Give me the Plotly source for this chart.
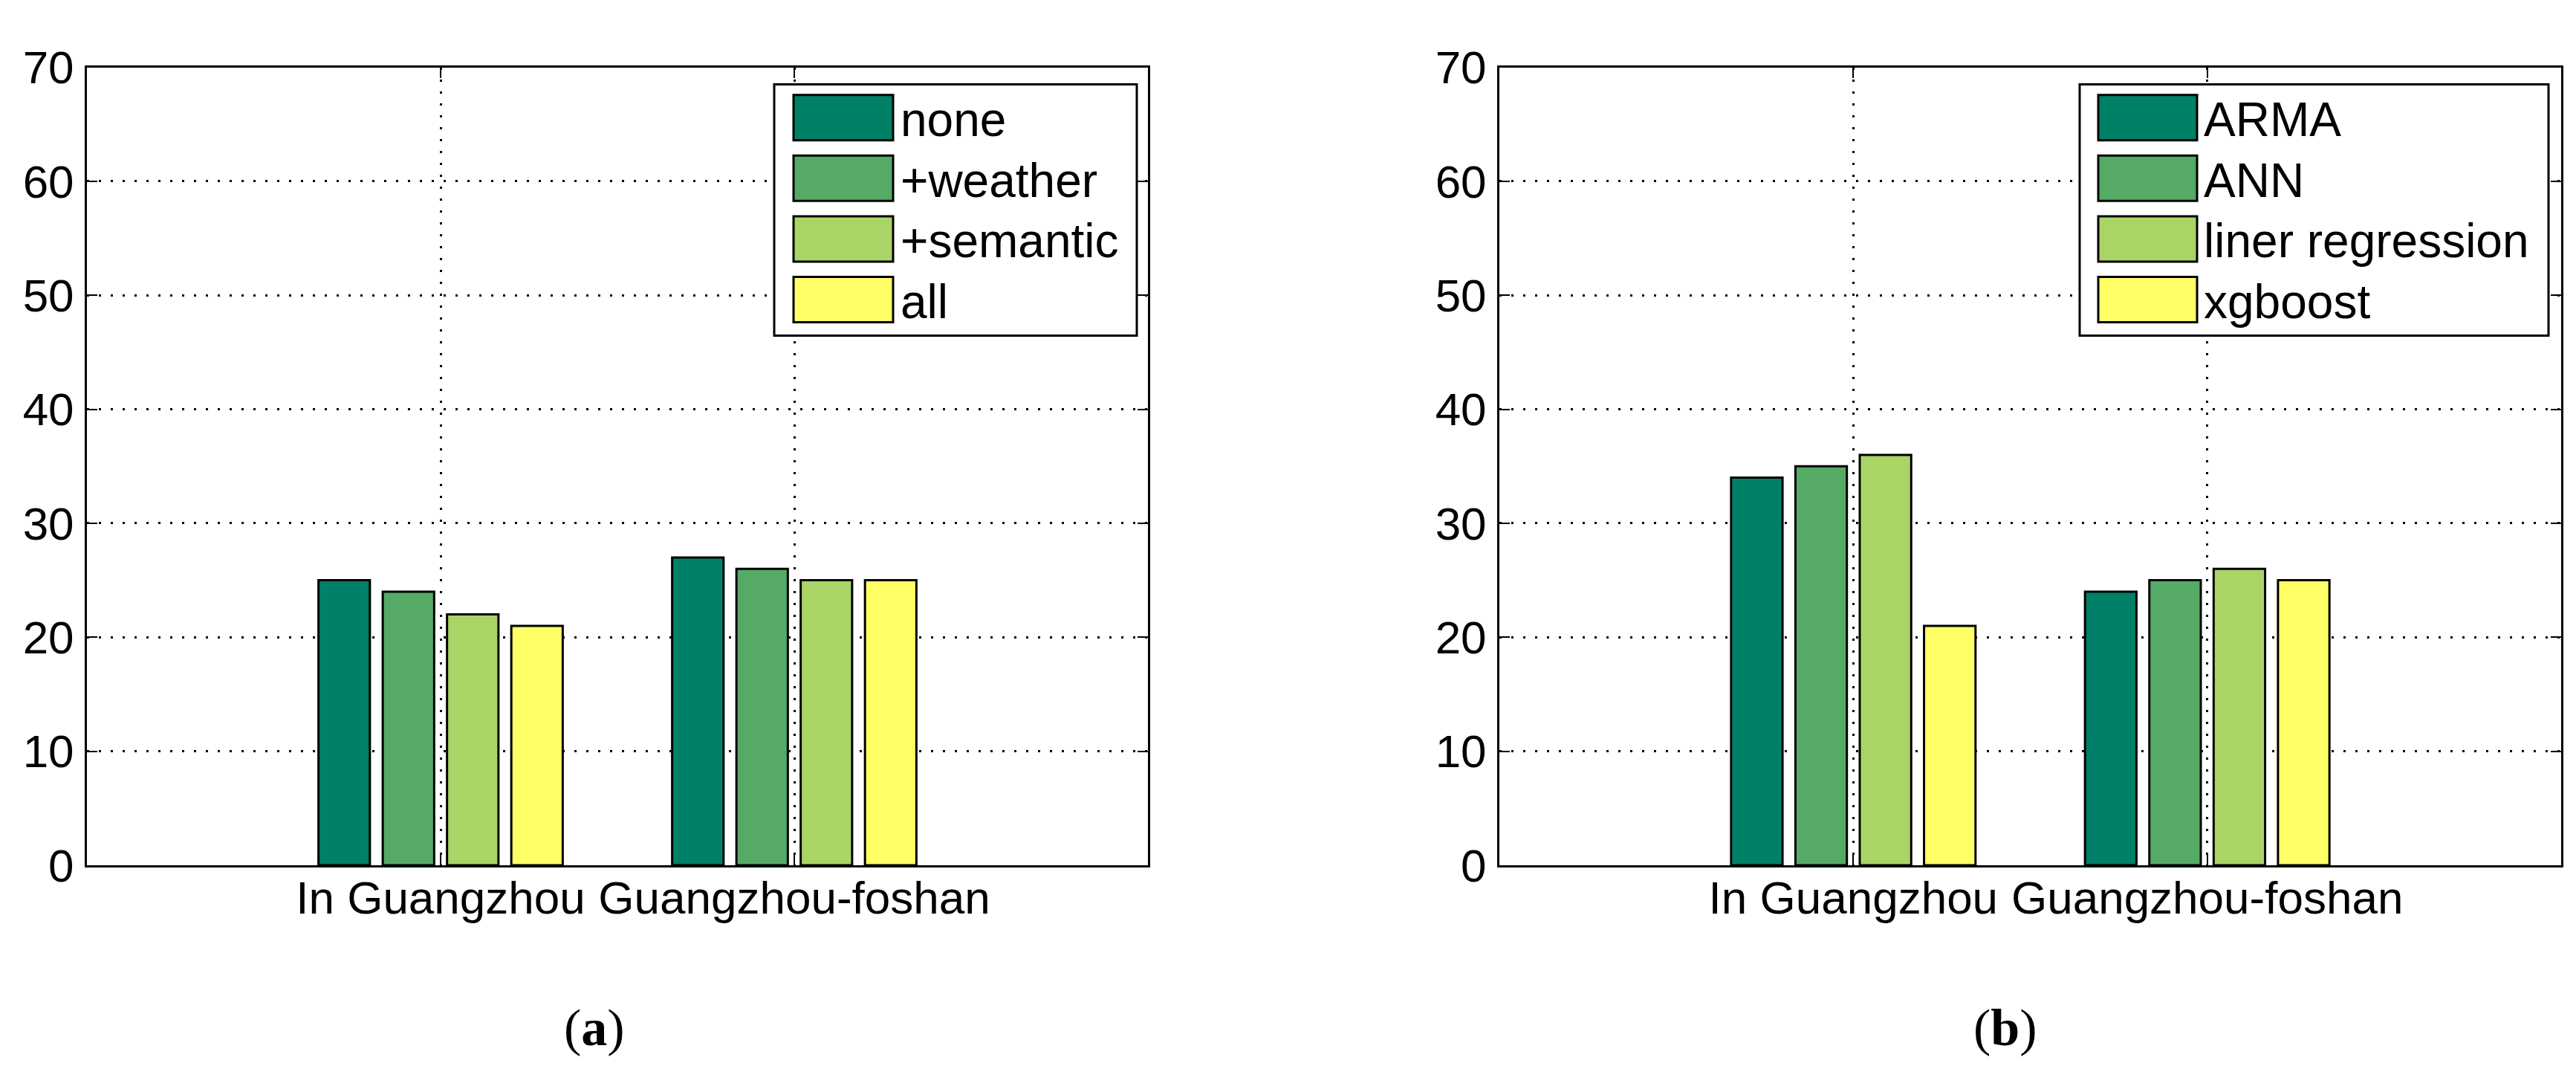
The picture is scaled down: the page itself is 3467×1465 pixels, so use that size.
import plotly.graph_objects as go

# ---------------- data ----------------
categories = ["In Guangzhou", "Guangzhou-foshan"]
cat_pos = [1, 2]

series_a = ["none", "+weather", "+semantic", "all"]
values_a = [
    [25, 27],
    [24, 26],
    [22, 25],
    [21, 25],
]

series_b = ["ARMA", "ANN", "liner regression", "xgboost"]
values_b = [
    [34, 24],
    [35, 25],
    [36, 26],
    [21, 25],
]

colors = ["#008066", "#55AA66", "#AAD466", "#FFFF66"]
y_ticks = [0, 10, 20, 30, 40, 50, 60, 70]
captions = ["(<b>a</b>)", "(<b>b</b>)"]

# ---------------- layout constants (page pixels) ----------------
PAGE_W, PAGE_H = 3467, 1465
OFF = 8                      # default body margin of the html page
W, H = PAGE_W - 2 * OFF, PAGE_H - 2 * OFF
AX_TOP, AX_BOT = 59, 1186
AX_A = (117, 1545)
AX_B = (2018, 3447)
FONT = "Liberation Sans, Arial, Helvetica, sans-serif"
FS = 62
FS_LEG = 64


def fxp(p):  # page x -> paper fraction
    return (p - OFF) / W


def fyp(p):  # page y -> paper fraction
    return 1 - (p - OFF) / H


fig = go.Figure()

for name, vals, col in zip(series_a, values_a, colors):
    fig.add_trace(go.Bar(x=cat_pos, y=vals, name=name, xaxis="x", yaxis="y",
                         marker=dict(color=col, line=dict(color="black", width=3)),
                         showlegend=False))
for name, vals, col in zip(series_b, values_b, colors):
    fig.add_trace(go.Bar(x=cat_pos, y=vals, name=name, xaxis="x2", yaxis="y2",
                         marker=dict(color=col, line=dict(color="black", width=3)),
                         showlegend=False))

ydom = [fyp(AX_BOT), fyp(AX_TOP)]

common_axis = dict(
    showline=True, linecolor="black", linewidth=3, mirror="ticks",
    ticks="inside", ticklen=14, tickwidth=2, tickcolor="black",
    showgrid=True, gridcolor="black", gridwidth=2.5, griddash="3px,13px",
    zeroline=False, tickfont=dict(family=FONT, size=FS, color="black"),
)

xa = dict(common_axis, range=[0, 3], tickvals=cat_pos, ticktext=categories,
          ticklabelstandoff=-12)
ya = dict(common_axis, range=[0, 70], tickvals=y_ticks, ticklabelstandoff=2)

fig.update_layout(
    width=W, height=H,
    margin=dict(l=0, r=0, t=0, b=0),
    paper_bgcolor="white", plot_bgcolor="white",
    barmode="group", bargap=0.273, bargroupgap=0.2,
    xaxis=dict(xa, domain=[fxp(AX_A[0]), fxp(AX_A[1])], anchor="y"),
    yaxis=dict(ya, domain=ydom, anchor="x"),
    xaxis2=dict(xa, domain=[fxp(AX_B[0]), fxp(AX_B[1])], anchor="y2"),
    yaxis2=dict(ya, domain=ydom, anchor="x2"),
)

# ---------------- legends drawn as boxes in axis-domain coordinates ----------------
def add_legend(xref, yref, ax, box_x, sw_x, text_x, names):
    x0, x1 = ax
    wpx = x1 - x0
    hpx = AX_BOT - AX_TOP

    def fx(p):
        return (p - x0) / wpx

    def fy(p):
        return (AX_BOT - p) / hpx

    fig.add_shape(type="rect", xref=xref, yref=yref,
                  x0=fx(box_x[0]), x1=fx(box_x[1]), y0=fy(438), y1=fy(83),
                  line=dict(color="black", width=3), fillcolor="white", layer="above")
    row_top = 98
    step = 85.7
    sh = 64
    for i, (nm, col) in enumerate(zip(names, colors)):
        t = row_top + i * step
        fig.add_shape(type="rect", xref=xref, yref=yref,
                      x0=fx(sw_x[0]), x1=fx(sw_x[1]), y0=fy(t + sh), y1=fy(t),
                      line=dict(color="black", width=3), fillcolor=col, layer="above")
        fig.add_annotation(xref=xref, yref=yref, x=fx(text_x), y=fy(t + sh / 2 + 3),
                           text=nm, showarrow=False, xanchor="left", yanchor="middle",
                           font=dict(family=FONT, size=FS_LEG, color="black"))


add_legend("x domain", "y domain", AX_A, (1042, 1530), (1068, 1202), 1210, series_a)
add_legend("x2 domain", "y2 domain", AX_B, (2799, 3430), (2824, 2957), 2964, series_b)

# ---------------- captions ----------------
for cx, cap in zip([800, 2699], captions):
    fig.add_annotation(xref="paper", yref="paper", x=fxp(cx), y=fyp(1416),
                       text=cap, showarrow=False, xanchor="center", yanchor="middle",
                       font=dict(family="Liberation Serif, Times New Roman, serif",
                                 size=70, color="black"))

fig.write_html("out.html")
